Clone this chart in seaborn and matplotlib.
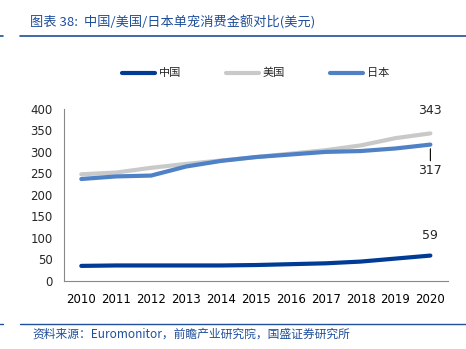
import matplotlib
matplotlib.use("Agg")
import matplotlib.pyplot as plt
import seaborn as sns
import pandas as pd
from matplotlib.lines import Line2D

years = ["2010", "2011", "2012", "2013", "2014", "2015", "2016", "2017", "2018", "2019", "2020"]
china = [35, 36, 36, 36, 36, 37, 39, 41, 45, 52, 59]
usa = [248, 252, 263, 272, 280, 288, 296, 304, 315, 332, 343]
japan = [237, 243, 245, 266, 279, 288, 294, 300, 302, 308, 317]
series_names = ["中国", "美国", "日本"]
colors = ["#003C96", "#C9C9C9", "#4F81C7"]
title = "图表 38:  中国/美国/日本单宠消费金额对比(美元)"
source = "资料来源：Euromonitor，前瞻产业研究院，国盛证券研究所"

sns.set_style("white")
plt.rcParams['font.family'] = ['DejaVu Sans', 'Noto Sans CJK SC']

df = pd.DataFrame({
    "year": years * 3,
    "value": china + usa + japan,
    "country": [series_names[0]] * 11 + [series_names[1]] * 11 + [series_names[2]] * 11,
})
df["x"] = list(range(11)) * 3

fig = plt.figure(figsize=(4.66, 3.49), dpi=100)
ax = fig.add_axes([0.137, 0.195, 0.824, 0.493])
sns.lineplot(data=df, x="x", y="value", hue="country", palette=dict(zip(series_names, colors)),
             hue_order=[series_names[1], series_names[2], series_names[0]],
             linewidth=3, ax=ax, legend=False, solid_capstyle="round")

ax.set_xlim(-0.5, 10.5)
ax.set_ylim(0, 400)
ax.set_yticks(range(0, 401, 50))
ax.set_xticks(range(11))
ax.set_xticklabels(years)
ax.set_xticks([i - 0.5 for i in range(12)], minor=True)
ax.tick_params(axis="x", which="major", length=0, pad=9, labelsize=8.5, colors="black")
ax.tick_params(axis="x", which="minor", length=4, direction="out", color="#888888", width=0.8)
ax.tick_params(axis="y", length=4, direction="out", color="#888888", width=0.8, labelsize=8.5, pad=4)
ax.set_xlabel("")
ax.set_ylabel("")
for s in ["top", "right"]:
    ax.spines[s].set_visible(False)
for s in ["left", "bottom"]:
    ax.spines[s].set_color("#888888")
    ax.spines[s].set_linewidth(0.8)

# annotations
ax.annotate(str(usa[-1]), (10, usa[-1]), xytext=(0, 12), textcoords="offset points",
            ha="center", va="bottom", fontsize=9)
ax.annotate(str(japan[-1]), (10, japan[-1]), xytext=(0, -14), textcoords="offset points",
            ha="center", va="top", fontsize=9,
            arrowprops=dict(arrowstyle="-", color="black", lw=0.8, shrinkA=0, shrinkB=3))
ax.annotate(str(china[-1]), (10, china[-1]), xytext=(0, 10), textcoords="offset points",
            ha="center", va="bottom", fontsize=9)

handles = [Line2D([0], [0], color=c, lw=3, solid_capstyle="round") for c in colors]
fig.legend(handles, series_names, loc="center", bbox_to_anchor=(0.548, 0.79), ncol=3,
           frameon=False, handlelength=3.0, columnspacing=4.0, handletextpad=0.35,
           prop={"family": ["Noto Sans CJK SC"], "size": 8})

blue = "#1F4E9A"
fig.text(0.064, 0.937, title, fontsize=9.5, color=blue, style="italic",
         family=["Noto Sans CJK SC", "DejaVu Sans"], va="center")
fig.add_artist(Line2D([0.043, 1.0], [0.897, 0.897], color=blue, lw=1.2))
fig.add_artist(Line2D([0.0, 0.006], [0.897, 0.897], color=blue, lw=1.2))
fig.add_artist(Line2D([0.043, 1.0], [0.072, 0.072], color=blue, lw=1.0))
fig.add_artist(Line2D([0.0, 0.006], [0.072, 0.072], color=blue, lw=1.0))
fig.text(0.07, 0.043, source, fontsize=8.5, color=blue, style="italic",
         family=["Noto Sans CJK SC", "DejaVu Sans"], va="center")

fig.savefig("out.png", dpi=100)
